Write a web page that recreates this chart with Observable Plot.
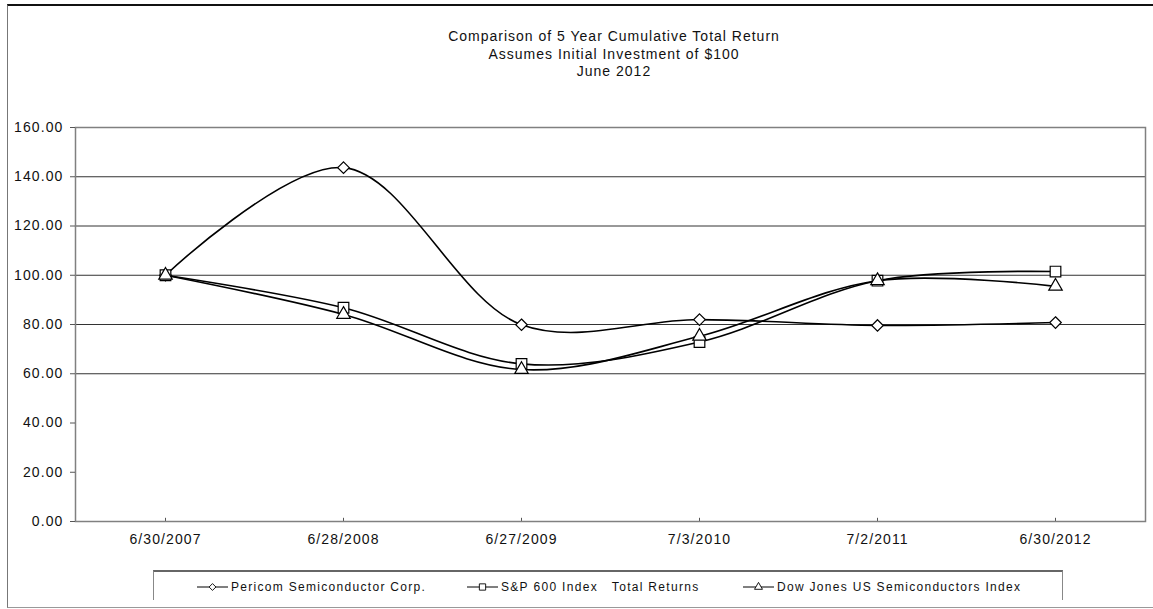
<!DOCTYPE html>
<html>
<head>
<meta charset="utf-8">
<script src="https://cdn.jsdelivr.net/npm/d3@7"></script>
<script src="https://cdn.jsdelivr.net/npm/@observablehq/plot@0.6"></script>
<style>
  html, body { margin: 0; padding: 0; background: #fff; }
  body { width: 1153px; height: 609px; overflow: hidden; font-family: "Liberation Sans", Arial, sans-serif; }
  #wrap { position: relative; width: 1153px; height: 609px; }
  #outer { position: absolute; left: 7px; top: 4px; width: 1160px; height: 601px;
           border-top: 2px solid #111; border-left: 1px solid #777; border-bottom: 1px solid #999; }
  #title { position: absolute; left: 0; width: 1228px; top: 28px; text-align: center;
           font-size: 14px; letter-spacing: 1px; line-height: 17.5px; color: #111; }
  #chart { position: absolute; left: 0; top: 0; }
  #chart svg text { letter-spacing: 1.1px; }
  #legend { position: absolute; left: 153px; top: 570px; width: 908px; height: 28px;
            border-top: 2px solid #666; border-left: 1px solid #888; border-right: 1px solid #888; }
  .item { position: absolute; top: 8px; font-size: 12px; letter-spacing: 1.3px; color: #111; white-space: nowrap; display: flex; align-items: center; }
  .item svg { margin-right: 3px; }
</style>
</head>
<body>
<div id="wrap">
  <div id="outer"></div>
  <div id="title">Comparison of 5 Year Cumulative Total Return<br>Assumes Initial Investment of $100<br>June 2012</div>
  <div id="chart"></div>
  <div id="legend"></div>
</div>
<script>
const dates = ["6/30/2007", "6/28/2008", "6/27/2009", "7/3/2010", "7/2/2011", "6/30/2012"];
const seriesNames = ["Pericom Semiconductor Corp.", "S&P 600 Index   Total Returns", "Dow Jones US Semiconductors Index"];
const pericom = [100.00, 143.70, 79.90, 82.00, 79.60, 80.80];
const sp600 = [100.00, 86.80, 64.00, 72.90, 97.80, 101.50];
const dowJones = [100.00, 84.10, 61.70, 75.20, 97.80, 95.50];
const yTicks = [0, 20, 40, 60, 80, 100, 120, 140, 160];
const gridValues = [60, 80, 100, 120, 140];
const symbols = ["diamond2", "square", "triangle"];
const radii = [5.2, 6.0, 5.0];

const valueSets = [pericom, sp600, dowJones];
const series = seriesNames.map((name, i) => ({
  name, symbol: symbols[i], r: radii[i],
  data: dates.map((d, j) => ({date: d, value: valueSets[i][j], series: name}))
}));

const marks = [
  Plot.ruleY(gridValues, {stroke: "#333", strokeWidth: 1}),
  Plot.ruleX(dates, {x: d => d, y1: 0, y2: 1.3, stroke: "#555"}),
  Plot.frame({stroke: "#808080", strokeWidth: 1.5}),
  Plot.axisY({ticks: yTicks, tickFormat: d => d.toFixed(2), tickSize: 5, tickPadding: 7,
              fontSize: 14, label: null, stroke: "#555"}),
  Plot.axisX({tickSize: 0, tickPadding: 13, fontSize: 14, label: null})
];
for (const s of series) {
  marks.push(Plot.line(s.data, {x: "date", y: "value", curve: "catmull-rom", stroke: "#000", strokeWidth: 1.6}));
}
for (const s of series) {
  marks.push(Plot.dot(s.data, {x: "date", y: "value", symbol: () => s.symbol, r: s.r,
                               fill: "#fff", stroke: "#000", strokeWidth: 1.2}));
}

const chart = Plot.plot({
  width: 1153,
  height: 609,
  marginTop: 127,
  marginLeft: 75,
  marginRight: 8,
  marginBottom: 88,
  style: {fontFamily: "'Liberation Sans', Arial, sans-serif", color: "#111", background: "transparent"},
  x: {type: "point", domain: dates, padding: 0.5},
  y: {domain: [0, 160]},
  symbol: {type: "identity"},
  marks
});
document.getElementById("chart").appendChild(chart);

// Legend
const legend = document.getElementById("legend");
const itemLefts = [43, 313, 589];
series.forEach((s, i) => {
  const div = document.createElement("div");
  div.className = "item";
  div.style.left = itemLefts[i] + "px";
  const size = Math.PI * s.r * s.r * 0.35;
  const sym = d3.symbol(
    s.symbol === "diamond2" ? d3.symbolDiamond2 : s.symbol === "square" ? d3.symbolSquare : d3.symbolTriangle,
    size)();
  div.innerHTML = `<svg width="31" height="12"><line x1="0" x2="31" y1="6" y2="6" stroke="#000" stroke-width="1"/><path d="${sym}" transform="translate(15.5,6)" fill="#fff" stroke="#000" stroke-width="0.9"/></svg><span>${s.name.replace(/ /g, "&nbsp;")}</span>`;
  legend.appendChild(div);
});
</script>
</body>
</html>
